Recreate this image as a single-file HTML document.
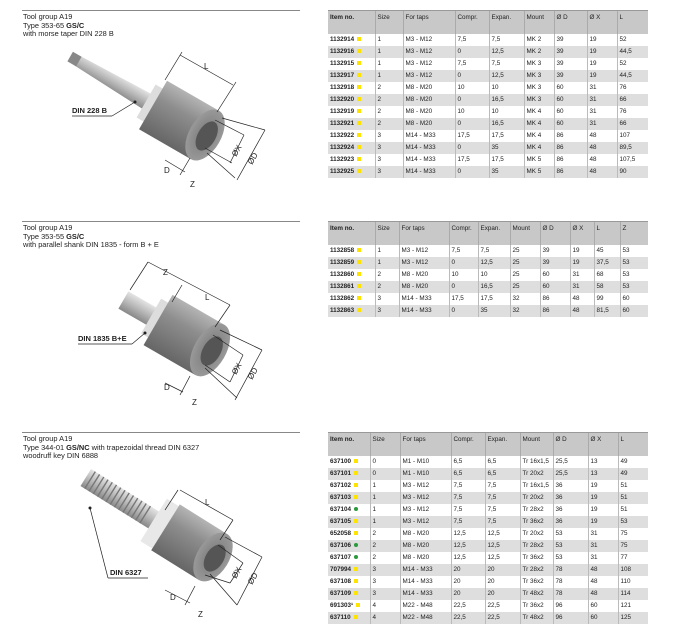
<!DOCTYPE html>
<html><head><meta charset="utf-8"><style>
body{margin:0;width:700px;height:617px;background:#fff;position:relative;overflow:hidden;font-family:"Liberation Sans",sans-serif;color:#222}
.t{position:absolute;left:328px;border-collapse:collapse;table-layout:fixed;font-size:6.3px}
.t td{padding:0 0 0 2px;height:12px;border-left:1px solid #bbb;white-space:nowrap;overflow:hidden;vertical-align:middle;box-sizing:border-box}
.t td:first-child{border-left:none;font-weight:bold}
.t tr.h td{background:#c8c8c8;height:23px;vertical-align:top;padding-top:3px;font-weight:normal;border-top:1px solid #999;border-left:1px solid #aaa}
.t tr.h td:first-child{font-weight:bold;border-left:none}
.t tr:nth-child(odd):not(.h) td{background:#dedede}
.y{display:inline-block;width:4px;height:4px;background:#ffe400;margin-left:3px}
.g{display:inline-block;width:4px;height:4px;border-radius:50%;background:#2a9a3a;margin-left:3px}
.tx{position:absolute;left:23px;font-size:7.4px;line-height:8.6px;color:#222}
.ln{position:absolute;left:22px;width:278px;height:1px;background:#888}
svg{position:absolute;left:0;top:0}
</style></head><body>
<div class="ln" style="top:10px"></div>
<div class="tx" style="top:13px">Tool group A19<br>Type 353-65 <b>GS/C</b><br>with morse taper DIN 228 B</div>
<div class="ln" style="top:221px"></div>
<div class="tx" style="top:224px">Tool group A19<br>Type 353-55 <b>GS/C</b><br>with parallel shank DIN 1835 - form B + E</div>
<div class="ln" style="top:432px"></div>
<div class="tx" style="top:435px">Tool group A19<br>Type 344-01 <b>GS/NC</b> with trapezoidal thread DIN 6327<br>woodruff key DIN 6888</div>

<svg width="700" height="617" viewBox="0 0 700 617">
<defs>
<linearGradient id="cg" x1="0" y1="0" x2="0" y2="1"><stop offset="0" stop-color="#b4b4b4"/><stop offset=".35" stop-color="#8e8e8e"/><stop offset="1" stop-color="#666"/></linearGradient>
<linearGradient id="sg" x1="0" y1="0" x2="0" y2="1"><stop offset="0" stop-color="#e4e4e4"/><stop offset=".5" stop-color="#b8b8b8"/><stop offset="1" stop-color="#888"/></linearGradient>
<radialGradient id="fg"><stop offset="0" stop-color="#777"/><stop offset="1" stop-color="#999"/></radialGradient>
</defs>
<!-- Tool 1 -->
<g transform="translate(205,135) rotate(30)">
<polygon points="-148,-6 -60,-9 -60,9 -148,5" fill="url(#sg)"/>
<rect x="-156" y="-6" width="10" height="11" fill="#888"/>
<rect x="-68" y="-19" width="10" height="38" fill="#ddd"/>
<rect x="-60" y="-28" width="60" height="56" fill="url(#cg)"/>
<ellipse cx="0" cy="0" rx="16" ry="28" fill="url(#fg)"/>
<ellipse cx="2" cy="0" rx="9" ry="16" fill="#555"/>
</g>
<!-- Tool 2 -->
<g transform="translate(210,350) rotate(30)">
<rect x="-100" y="-10" width="40" height="20" fill="url(#sg)"/>
<rect x="-68" y="-20" width="10" height="40" fill="#ddd"/>
<rect x="-60" y="-29" width="60" height="58" fill="url(#cg)"/>
<ellipse cx="0" cy="0" rx="16" ry="29" fill="url(#fg)"/>
<ellipse cx="2" cy="0" rx="9" ry="16" fill="#555"/>
</g>
<!-- Tool 3 -->
<g transform="translate(213,557) rotate(32)">
<rect x="-150" y="-10" width="80" height="20" fill="url(#sg)"/>
<g stroke="#777" stroke-width="1.4">
<line x1="-145" y1="-10" x2="-145" y2="10"/><line x1="-140" y1="-10" x2="-140" y2="10"/><line x1="-135" y1="-10" x2="-135" y2="10"/><line x1="-130" y1="-10" x2="-130" y2="10"/><line x1="-125" y1="-10" x2="-125" y2="10"/><line x1="-120" y1="-10" x2="-120" y2="10"/><line x1="-115" y1="-10" x2="-115" y2="10"/><line x1="-110" y1="-10" x2="-110" y2="10"/><line x1="-105" y1="-10" x2="-105" y2="10"/><line x1="-100" y1="-10" x2="-100" y2="10"/><line x1="-95" y1="-10" x2="-95" y2="10"/><line x1="-90" y1="-10" x2="-90" y2="10"/><line x1="-85" y1="-10" x2="-85" y2="10"/><line x1="-80" y1="-10" x2="-80" y2="10"/></g>
<rect x="-70" y="-25" width="14" height="50" fill="#e8e8e8"/>
<rect x="-56" y="-27" width="56" height="54" fill="url(#cg)"/>
<ellipse cx="0" cy="0" rx="16" ry="27" fill="url(#fg)"/>
<ellipse cx="2" cy="0" rx="9" ry="15" fill="#555"/>
</g>
<g stroke="#222" stroke-width=".7" fill="none">
<line x1="180" y1="55" x2="233" y2="85"/><line x1="165" y1="80" x2="182" y2="52"/><line x1="217" y1="112" x2="236" y2="82"/>
<line x1="222" y1="118" x2="265" y2="130"/><line x1="207" y1="153" x2="235" y2="178"/><line x1="265" y1="130" x2="237" y2="180"/>
<line x1="215" y1="120" x2="244" y2="135"/><line x1="205" y1="148" x2="232" y2="163"/><line x1="244" y1="135" x2="230" y2="163"/>
<line x1="165" y1="160" x2="185" y2="172"/><line x1="190" y1="158" x2="180" y2="175"/>
<line x1="72" y1="116" x2="112" y2="116"/><line x1="112" y1="116" x2="135" y2="102"/>
<line x1="148" y1="262" x2="230" y2="305"/><line x1="130" y1="290" x2="148" y2="262"/><line x1="172" y1="302" x2="182" y2="285"/><line x1="215" y1="327" x2="230" y2="305"/>
<line x1="220" y1="330" x2="262" y2="350"/><line x1="205" y1="368" x2="237" y2="398"/><line x1="262" y1="350" x2="235" y2="400"/>
<line x1="213" y1="335" x2="243" y2="355"/><line x1="205" y1="365" x2="230" y2="382"/><line x1="243" y1="355" x2="230" y2="382"/>
<line x1="165" y1="383" x2="183" y2="392"/><line x1="190" y1="376" x2="180" y2="395"/>
<line x1="78" y1="344" x2="132" y2="344"/><line x1="132" y1="344" x2="145" y2="333"/>
<line x1="180" y1="490" x2="233" y2="520"/><line x1="165" y1="510" x2="178" y2="490"/><line x1="220" y1="540" x2="233" y2="520"/>
<line x1="225" y1="537" x2="262" y2="557"/><line x1="210" y1="574" x2="237" y2="605"/><line x1="262" y1="557" x2="237" y2="605"/>
<line x1="218" y1="545" x2="243" y2="563"/><line x1="205" y1="575" x2="230" y2="583"/><line x1="243" y1="563" x2="230" y2="583"/>
<line x1="165" y1="590" x2="190" y2="603"/><line x1="195" y1="586" x2="185" y2="605"/>
<line x1="108" y1="578" x2="148" y2="578"/><line x1="108" y1="578" x2="90" y2="508"/>
</g>
<g fill="#222"><circle cx="135" cy="102" r="1.5"/><circle cx="145" cy="333" r="1.5"/><circle cx="90" cy="508" r="1.5"/></g>
<g font-family="Liberation Sans" font-size="8" fill="#222">
<text x="72" y="113" font-weight="bold" font-size="7.5">DIN 228 B</text>
<text x="204" y="69">L</text><text x="164" y="173">D</text><text x="190" y="187">Z</text>
<text x="236" y="157" transform="rotate(-60 236 157)">ØX</text><text x="252" y="165" transform="rotate(-60 252 165)">ØD</text>
<text x="78" y="341" font-weight="bold" font-size="7.5">DIN 1835 B+E</text>
<text x="163" y="275">Z</text><text x="205" y="300">L</text><text x="164" y="390">D</text><text x="192" y="405">Z</text>
<text x="236" y="375" transform="rotate(-60 236 375)">ØX</text><text x="252" y="380" transform="rotate(-60 252 380)">ØD</text>
<text x="110" y="575" font-weight="bold" font-size="7.5">DIN 6327</text>
<text x="205" y="505">L</text><text x="170" y="600">D</text><text x="198" y="617">Z</text>
<text x="236" y="579" transform="rotate(-60 236 579)">ØX</text><text x="252" y="585" transform="rotate(-60 252 585)">ØD</text>
</g>
</svg>

<table class="t" style="top:10px;width:320px">
<colgroup><col style="width:47px"><col style="width:28px"><col style="width:52px"><col style="width:34px"><col style="width:35px"><col style="width:30px"><col style="width:33px"><col style="width:30px"><col style="width:31px"></colgroup>
<tr class="h"><td>Item no.</td><td>Size</td><td>For taps</td><td>Compr.</td><td>Expan.</td><td>Mount</td><td>Ø D</td><td>Ø X</td><td>L</td></tr>
<tr><td>1132914<span class="y"></span></td><td>1</td><td>M3 - M12</td><td>7,5</td><td>7,5</td><td>MK 2</td><td>39</td><td>19</td><td>52</td></tr>
<tr><td>1132916<span class="y"></span></td><td>1</td><td>M3 - M12</td><td>0</td><td>12,5</td><td>MK 2</td><td>39</td><td>19</td><td>44,5</td></tr>
<tr><td>1132915<span class="y"></span></td><td>1</td><td>M3 - M12</td><td>7,5</td><td>7,5</td><td>MK 3</td><td>39</td><td>19</td><td>52</td></tr>
<tr><td>1132917<span class="y"></span></td><td>1</td><td>M3 - M12</td><td>0</td><td>12,5</td><td>MK 3</td><td>39</td><td>19</td><td>44,5</td></tr>
<tr><td>1132918<span class="y"></span></td><td>2</td><td>M8 - M20</td><td>10</td><td>10</td><td>MK 3</td><td>60</td><td>31</td><td>76</td></tr>
<tr><td>1132920<span class="y"></span></td><td>2</td><td>M8 - M20</td><td>0</td><td>16,5</td><td>MK 3</td><td>60</td><td>31</td><td>66</td></tr>
<tr><td>1132919<span class="y"></span></td><td>2</td><td>M8 - M20</td><td>10</td><td>10</td><td>MK 4</td><td>60</td><td>31</td><td>76</td></tr>
<tr><td>1132921<span class="y"></span></td><td>2</td><td>M8 - M20</td><td>0</td><td>16,5</td><td>MK 4</td><td>60</td><td>31</td><td>66</td></tr>
<tr><td>1132922<span class="y"></span></td><td>3</td><td>M14 - M33</td><td>17,5</td><td>17,5</td><td>MK 4</td><td>86</td><td>48</td><td>107</td></tr>
<tr><td>1132924<span class="y"></span></td><td>3</td><td>M14 - M33</td><td>0</td><td>35</td><td>MK 4</td><td>86</td><td>48</td><td>89,5</td></tr>
<tr><td>1132923<span class="y"></span></td><td>3</td><td>M14 - M33</td><td>17,5</td><td>17,5</td><td>MK 5</td><td>86</td><td>48</td><td>107,5</td></tr>
<tr><td>1132925<span class="y"></span></td><td>3</td><td>M14 - M33</td><td>0</td><td>35</td><td>MK 5</td><td>86</td><td>48</td><td>90</td></tr>
</table>

<table class="t" style="top:221px;width:320px">
<colgroup><col style="width:47px"><col style="width:24px"><col style="width:50px"><col style="width:29px"><col style="width:32px"><col style="width:30px"><col style="width:30px"><col style="width:24px"><col style="width:26px"><col style="width:28px"></colgroup>
<tr class="h"><td>Item no.</td><td>Size</td><td>For taps</td><td>Compr.</td><td>Expan.</td><td>Mount</td><td>Ø D</td><td>Ø X</td><td>L</td><td>Z</td></tr>
<tr><td>1132858<span class="y"></span></td><td>1</td><td>M3 - M12</td><td>7,5</td><td>7,5</td><td>25</td><td>39</td><td>19</td><td>45</td><td>53</td></tr>
<tr><td>1132859<span class="y"></span></td><td>1</td><td>M3 - M12</td><td>0</td><td>12,5</td><td>25</td><td>39</td><td>19</td><td>37,5</td><td>53</td></tr>
<tr><td>1132860<span class="y"></span></td><td>2</td><td>M8 - M20</td><td>10</td><td>10</td><td>25</td><td>60</td><td>31</td><td>68</td><td>53</td></tr>
<tr><td>1132861<span class="y"></span></td><td>2</td><td>M8 - M20</td><td>0</td><td>16,5</td><td>25</td><td>60</td><td>31</td><td>58</td><td>53</td></tr>
<tr><td>1132862<span class="y"></span></td><td>3</td><td>M14 - M33</td><td>17,5</td><td>17,5</td><td>32</td><td>86</td><td>48</td><td>99</td><td>60</td></tr>
<tr><td>1132863<span class="y"></span></td><td>3</td><td>M14 - M33</td><td>0</td><td>35</td><td>32</td><td>86</td><td>48</td><td>81,5</td><td>60</td></tr>
</table>

<table class="t" style="top:432px;width:320px">
<colgroup><col style="width:42px"><col style="width:30px"><col style="width:51px"><col style="width:34px"><col style="width:35px"><col style="width:33px"><col style="width:35px"><col style="width:30px"><col style="width:30px"></colgroup>
<tr class="h"><td>Item no.</td><td>Size</td><td>For taps</td><td>Compr.</td><td>Expan.</td><td>Mount</td><td>Ø D</td><td>Ø X</td><td>L</td></tr>
<tr><td>637100<span class="y"></span></td><td>0</td><td>M1 - M10</td><td>6,5</td><td>6,5</td><td>Tr 16x1,5</td><td>25,5</td><td>13</td><td>49</td></tr>
<tr><td>637101<span class="y"></span></td><td>0</td><td>M1 - M10</td><td>6,5</td><td>6,5</td><td>Tr 20x2</td><td>25,5</td><td>13</td><td>49</td></tr>
<tr><td>637102<span class="y"></span></td><td>1</td><td>M3 - M12</td><td>7,5</td><td>7,5</td><td>Tr 16x1,5</td><td>36</td><td>19</td><td>51</td></tr>
<tr><td>637103<span class="y"></span></td><td>1</td><td>M3 - M12</td><td>7,5</td><td>7,5</td><td>Tr 20x2</td><td>36</td><td>19</td><td>51</td></tr>
<tr><td>637104<span class="g"></span></td><td>1</td><td>M3 - M12</td><td>7,5</td><td>7,5</td><td>Tr 28x2</td><td>36</td><td>19</td><td>51</td></tr>
<tr><td>637105<span class="y"></span></td><td>1</td><td>M3 - M12</td><td>7,5</td><td>7,5</td><td>Tr 36x2</td><td>36</td><td>19</td><td>53</td></tr>
<tr><td>652058<span class="y"></span></td><td>2</td><td>M8 - M20</td><td>12,5</td><td>12,5</td><td>Tr 20x2</td><td>53</td><td>31</td><td>75</td></tr>
<tr><td>637106<span class="g"></span></td><td>2</td><td>M8 - M20</td><td>12,5</td><td>12,5</td><td>Tr 28x2</td><td>53</td><td>31</td><td>75</td></tr>
<tr><td>637107<span class="g"></span></td><td>2</td><td>M8 - M20</td><td>12,5</td><td>12,5</td><td>Tr 36x2</td><td>53</td><td>31</td><td>77</td></tr>
<tr><td>707994<span class="y"></span></td><td>3</td><td>M14 - M33</td><td>20</td><td>20</td><td>Tr 28x2</td><td>78</td><td>48</td><td>108</td></tr>
<tr><td>637108<span class="y"></span></td><td>3</td><td>M14 - M33</td><td>20</td><td>20</td><td>Tr 36x2</td><td>78</td><td>48</td><td>110</td></tr>
<tr><td>637109<span class="y"></span></td><td>3</td><td>M14 - M33</td><td>20</td><td>20</td><td>Tr 48x2</td><td>78</td><td>48</td><td>114</td></tr>
<tr><td>691303¹<span class="y"></span></td><td>4</td><td>M22 - M48</td><td>22,5</td><td>22,5</td><td>Tr 36x2</td><td>96</td><td>60</td><td>121</td></tr>
<tr><td>637110<span class="y"></span></td><td>4</td><td>M22 - M48</td><td>22,5</td><td>22,5</td><td>Tr 48x2</td><td>96</td><td>60</td><td>125</td></tr>
</table>
</body></html>
